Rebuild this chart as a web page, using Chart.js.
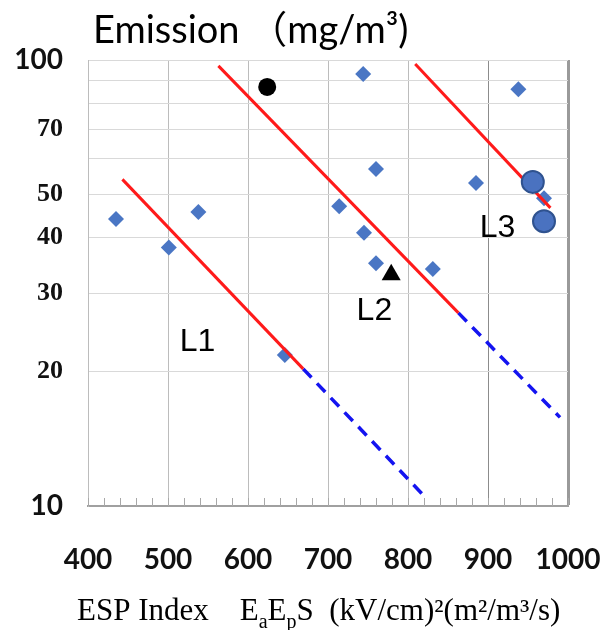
<!DOCTYPE html>
<html>
<head>
<meta charset="utf-8">
<script src="https://cdn.jsdelivr.net/npm/chart.js@4.4.1/dist/chart.umd.min.js"></script>
<style>
  body { margin: 0; background: #fff; }
  #wrap { width: 614px; height: 630px; }
</style>
</head>
<body>
<div id="wrap"><canvas id="chart" width="614" height="630"></canvas></div>
<script>
// Measured points (ESP index, emission mg/m3)
const diamondX = [435, 501, 538, 646, 714, 744, 745, 760, 760, 831, 885, 938, 970];
const diamondY = [44, 38, 45.6, 21.8, 47, 93, 41, 57, 35, 34, 53, 86, 49];
const dotX = [624];
const dotY = [87];
const triX = [779];
const triY = [33];
const bigX = [956, 970];
const bigY = [53.3, 43.5];

// Fitted lines L1..L3 (red solid part, blue dashed extrapolation)
const l1X = [443, 669];
const l1Y = [54, 20.3];
const l1extX = [669, 823];
const l1extY = [20.3, 10.4];
const l2X = [563, 863];
const l2Y = [97, 27.1];
const l2extX = [863, 990];
const l2extY = [27.1, 15.8];
const l3X = [809, 978];
const l3Y = [98, 46.6];

// Line labels: text, x, y
const lineLabels = ['L1', 'L2', 'L3'];
const lineLabelX = [537, 758, 912];
const lineLabelY = [23.3, 27.4, 42];

// Axes
const xMin = 400, xMax = 1000;
const yGridValues = [10, 20, 30, 40, 50, 60, 70, 80, 90, 100];
const yTickLabels = [10, 20, 30, 40, 50, 70, 100];

function pts(xs, ys) {
    return xs.map((x, i) => ({ x: x, y: ys[i] }));
}

// Title, axis title, line labels and minor ticks on the bottom axis
const textPlugin = {
    id: 'texts',
    afterDraw(chart) {
        const { ctx, scales: { x, y } } = chart;
        ctx.save();

        // minor ticks on bottom axis
        ctx.strokeStyle = '#a8a8a8';
        ctx.lineWidth = 1;
        for (let v = xMin; v <= xMax; v += 20) {
            const px = Math.round(x.getPixelForValue(v)) + 0.5;
            ctx.beginPath();
            ctx.moveTo(px, y.bottom);
            ctx.lineTo(px, y.bottom - 8);
            ctx.stroke();
        }

        // chart title
        ctx.fillStyle = '#000';
        ctx.textBaseline = 'alphabetic';
        ctx.textAlign = 'left';
        ctx.font = '38px Lato, "Noto Sans CJK SC", sans-serif';
        ctx.fillText('Emission （mg/m³)', 93, 43);

        // line labels
        ctx.font = '32px "Liberation Sans", Arial, sans-serif';
        ctx.textAlign = 'center';
        ctx.textBaseline = 'middle';
        lineLabels.forEach((t, i) => {
            ctx.fillText(t, x.getPixelForValue(lineLabelX[i]), y.getPixelForValue(lineLabelY[i]));
        });

        // x axis title with subscripts
        const parts = [
            ['ESP Index    E', 0], ['a', 1], ['E', 0], ['p', 1], ['S  (kV/cm)²(m²/m³/s)', 0]
        ];
        ctx.textAlign = 'left';
        ctx.textBaseline = 'alphabetic';
        let cx = 77;
        parts.forEach(([t, sub]) => {
            ctx.font = sub ? '20px "Liberation Serif", serif' : '31px "Liberation Serif", serif';
            ctx.fillText(t, cx, sub ? 628 : 620);
            cx += ctx.measureText(t).width;
        });

        ctx.restore();
    }
};

const ctx = document.getElementById('chart').getContext('2d');
new Chart(ctx, {
    type: 'scatter',
    data: {
        datasets: [
            {
                // big blue circles
                data: pts(bigX, bigY),
                pointStyle: 'circle',
                pointRadius: 11,
                backgroundColor: '#4a72c0',
                borderColor: '#2f528f',
                borderWidth: 2
            },
            {
                data: pts(dotX, dotY),
                pointStyle: 'circle',
                pointRadius: 9,
                backgroundColor: '#000',
                borderColor: '#000',
                borderWidth: 0
            },
            {
                data: pts(triX, triY),
                pointStyle: 'triangle',
                pointRadius: 11,
                backgroundColor: '#000',
                borderColor: '#000',
                borderWidth: 0
            },
            { data: pts(l1X, l1Y), showLine: true, pointRadius: 0, borderColor: '#ff1a1a', borderWidth: 3 },
            { data: pts(l2X, l2Y), showLine: true, pointRadius: 0, borderColor: '#ff1a1a', borderWidth: 3 },
            { data: pts(l3X, l3Y), showLine: true, pointRadius: 0, borderColor: '#ff1a1a', borderWidth: 3 },
            { data: pts(l1extX, l1extY), showLine: true, pointRadius: 0, borderColor: '#1414f0', borderWidth: 3.5, borderDash: [12, 8] },
            { data: pts(l2extX, l2extY), showLine: true, pointRadius: 0, borderColor: '#1414f0', borderWidth: 3.5, borderDash: [12, 8] },
            {
                // blue diamonds
                data: pts(diamondX, diamondY),
                pointStyle: 'rectRot',
                pointRadius: 8,
                backgroundColor: '#4a76c4',
                borderColor: '#4a76c4',
                borderWidth: 0
            }
        ]
    },
    options: {
        responsive: false,
        animation: false,
        layout: { padding: { top: 60, right: 46, bottom: 0, left: 0 } },
        plugins: {
            legend: { display: false },
            tooltip: { enabled: false },
            title: { display: false }
        },
        scales: {
            x: {
                type: 'linear',
                min: xMin,
                max: xMax,
                afterFit(scale) { scale.height = 124; },
                ticks: {
                    stepSize: 100,
                    padding: 4,
                    color: '#111',
                    callback: (v) => String(v),
                    // tall line height pushes the labels down without widening the side padding
                    font: { family: 'Lato', weight: 'bold', size: 28, lineHeight: '100px' }
                },
                grid: {
                    drawTicks: false,
                    color: (c) => c.tick && c.tick.value === 900 ? '#8c8c8c' : (c.tick && c.tick.value === 1000 ? '#9a9a9a' : '#bcbcbc'),
                    lineWidth: (c) => c.tick && c.tick.value === 1000 ? 3 : 1
                },
                border: { color: '#a0a0a0', width: 2 }
            },
            y: {
                type: 'logarithmic',
                min: 10,
                max: 100,
                afterFit(scale) { scale.width = 88; },
                afterBuildTicks(scale) {
                    scale.ticks = yGridValues.map(v => ({ value: v }));
                },
                ticks: {
                    padding: 25,
                    color: '#111',
                    callback: (v) => yTickLabels.includes(v) ? String(v) : '',
                    font: (c) => (c.tick && (c.tick.value === 100 || c.tick.value === 10))
                        ? { family: 'Lato', weight: 'bold', size: 28 }
                        : { family: '"Liberation Serif"', weight: 'bold', size: 26 }
                },
                grid: { drawTicks: false, color: '#d9d9d9' },
                border: { color: '#bcbcbc', width: 1 }
            }
        }
    },
    plugins: [textPlugin]
});
</script>
</body>
</html>
